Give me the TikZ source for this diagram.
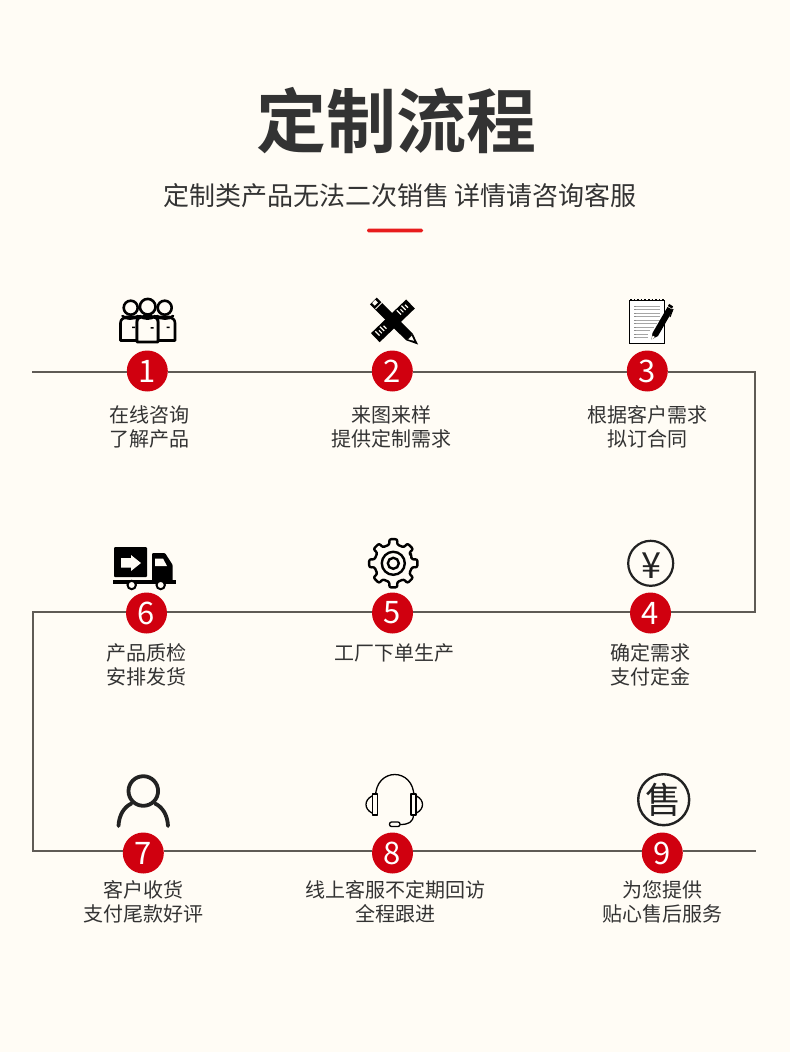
\documentclass[tikz,border=0pt]{standalone}
\usepackage{fontspec}
\usetikzlibrary{calc}
\setmainfont{Noto Sans CJK SC}
\newfontfamily\boldcjk{Noto Sans CJK SC Bold}
\definecolor{bgc}{HTML}{FFFCF5}
\definecolor{redc}{HTML}{D0000F}
\definecolor{barc}{HTML}{E81C1C}
\definecolor{linec}{HTML}{5F5B55}
\definecolor{textc}{HTML}{333333}
\definecolor{iconc}{HTML}{222222}
\tikzset{
 x=1pt,y=-1pt,
 stepnum/.style={circle,fill=redc,text=white,minimum size=41pt,inner sep=0pt,font=\fontsize{31}{31}\selectfont},
 steplabel/.style={text=textc,align=center,font=\fontsize{20}{24}\selectfont,inner sep=0pt},
 flow/.style={draw=linec,line width=2.2pt,line join=miter},
 ink/.style={draw=black,line width=2.6pt,line join=round,line cap=round},
}
\begin{document}
\begin{tikzpicture}
\fill[bgc] (0,0) rectangle (790,1052);
\useasboundingbox (0,0) rectangle (790,1052);
% headings
\node[text=textc,inner sep=0pt,font=\boldcjk\fontsize{70}{70}\selectfont] (title) at (396.5,121) {定制流程};
\node[text=textc,inner sep=0pt,font=\fontsize{26}{26}\selectfont] (subtitle) at (400,196) {定制类产品无法二次销售 详情请咨询客服};
\node[fill=barc,rounded corners=1.5pt,minimum width=56pt,minimum height=3.6pt,inner sep=0pt] (bar) at (395,230.5) {};
% step nodes
\node[stepnum] (n1) at (147.3,371) {1};
\node[stepnum] (n2) at (392.3,371) {2};
\node[stepnum] (n3) at (647.3,371) {3};
\node[stepnum] (n4) at (650.5,613) {4};
\node[stepnum] (n5) at (392.5,613) {5};
\node[stepnum] (n6) at (146.5,613) {6};
\node[stepnum] (n7) at (143.3,853) {7};
\node[stepnum] (n8) at (392.5,853) {8};
\node[stepnum] (n9) at (662.3,853) {9};
% labels
\node[steplabel] (l1) at (149.5,427) {在线咨询\\了解产品};
\node[steplabel] (l2) at (391.5,427) {来图来样\\提供定制需求};
\node[steplabel] (l3) at (647.5,427) {根据客户需求\\拟订合同};
\node[steplabel] (l4) at (650.5,665) {确定需求\\支付定金};
\node[steplabel] (l5) at (394.5,653) {工厂下单生产};
\node[steplabel] (l6) at (146.5,665) {产品质检\\安排发货};
\node[steplabel] (l7) at (143.5,902) {客户收货\\支付尾款好评};
\node[steplabel] (l8) at (395.5,902) {线上客服不定期回访\\全程跟进};
\node[steplabel] (l9) at (662.5,902) {为您提供\\贴心售后服务};
% connectors
\coordinate (start) at (32,372);
\coordinate (cr1) at (755.3,372);
\coordinate (cr2) at (755.3,612);
\coordinate (cl1) at (33,612);
\coordinate (cl2) at (33,851);
\coordinate (stop) at (756,851);
\draw[flow] (start) -- (n1.west |- start);
\draw[flow] (n1.east |- start) -- (n2.west |- start);
\draw[flow] (n2.east |- start) -- (n3.west |- start);
\draw[flow] (n3.east |- start) -- (cr1) -- (cr2) -- (n4.east |- cr2);
\draw[flow] (n4.west |- cr2) -- (n5.east |- cr2);
\draw[flow] (n5.west |- cr2) -- (n6.east |- cr2);
\draw[flow] (n6.west |- cr2) -- (cl1) -- (cl2) -- (n7.west |- cl2);
\draw[flow] (n7.east |- cl2) -- (n8.west |- cl2);
\draw[flow] (n8.east |- cl2) -- (n9.west |- cl2);
\draw[flow] (n9.east |- cl2) -- (stop);
% icon 1: people
\begin{scope}[ink]
\draw (120.5,340.5) -- (120.5,323) .. controls (120.5,319.5) and (123,318) .. (126,317) -- (137,317) -- (137,340.5) -- cycle;
\draw (130.7,307.7) circle (7);
\draw (122.5,316) .. controls (125,319.5) and (135,319.5) .. (138,316);
\draw (175,340.5) -- (175,323) .. controls (175,319.5) and (172.5,318) .. (169.5,317) -- (158,317) -- (158,340.5) -- cycle;
\draw (164.7,307.7) circle (7);
\draw (157,316) .. controls (160,319.5) and (170,319.5) .. (173,316);
\draw[fill=bgc] (137,342) -- (137,322) .. controls (137,318.5) and (140,317) .. (143,316.5) -- (152,316.5) .. controls (155,317) and (158,318.5) .. (158,322) -- (158,342) -- cycle;
\draw[fill=bgc] (147.7,306.7) circle (7.8);
\draw (140,316) .. controls (143,319.5) and (152,319.5) .. (155,316);
\fill (150.5,327) rectangle (153.5,328.6) (166.5,326.5) rectangle (169.5,328.1) (132,326.5) rectangle (135,328.1);
\end{scope}
% icon 2: ruler and pencil
\draw[black,line width=12.5pt,rounded corners=1pt] (375.3,337.7) -- (410.5,304);
\foreach \d/\l in {0/6,1/4,2/6,3/4}{
 \draw[bgc,line width=1.2pt] ($(379.5,335.5)+(\d*2.3,-\d*2.3)$) -- ++(-\l*0.7,-\l*0.7);
 \draw[bgc,line width=1.2pt] ($(401,314.5)+(\d*2.3,-\d*2.3)$) -- ++(-\l*0.7,-\l*0.7);
}
\draw[black,line width=9.5pt] (373.3,301) -- (409.5,337);
\draw[bgc,line width=4.5pt] (373.7,301.5) -- (376.3,304);
\draw[bgc,line width=1pt] (375.5,309) -- (382.5,302);
\fill[black] (406.2,340.3) -- (412.8,333.7) -- (418,344.5) -- cycle;
\fill[bgc] (408.3,339.4) -- (411.8,335.9) -- (414,340.8) -- cycle;
% icon 3: notepad and pen
\draw[black,line width=0.9pt,fill=white] (629.5,300) rectangle (664.5,343);
\draw[black,line width=1.6pt,dotted] (630,299.5) -- (664,299.5);
\foreach \y/\e in {306/660,309.5/660,313/660,316.5/660,320/660,323.5/657,327/654,330.5/650,334/648,337/648}{
 \draw[black!35,line width=0.5pt] (636,\y) -- (\e,\y);
 \draw[black!45,line width=0.5pt] (634,\y) -- (636,\y);
}
\fill[black] (651.5,339.5) -- (652.5,333) -- (667.5,307) -- (673,310) -- (658,336) -- cycle;
\fill[bgc] (651.5,339.8) -- (652.6,335.5) -- (655,337) -- cycle;
\draw[black,line width=2.5pt] (668.5,305) -- (672.5,307.5);
\draw[black,line width=1.1pt] (673,309) -- (670,317);
% icon 6: truck
\fill[black,rounded corners=1pt] (114,547) rectangle (147,577);
\fill[bgc] (121,558) -- (131,558) -- (131,555) -- (141,563) -- (131,571) -- (131,567.5) -- (121,567.5) -- cycle;
\fill[black,rounded corners=1pt] (152,582) -- (152,553) -- (165,553) -- (172.7,565) -- (172.7,582) -- cycle;
\fill[bgc] (155,558.5) -- (163,558.5) -- (167,566) -- (155,566) -- cycle;
\fill[black] (113,580) rectangle (176,583.5);
\draw[black,line width=2pt,fill=bgc] (131.7,585) circle (4.2);
\draw[black,line width=2pt,fill=bgc] (160.7,585) circle (4.2);
% icon 5: gear
\begin{scope}[shift={(393.3,563.3)}]
\draw[black,line width=2.4pt,line join=round,rounded corners=2.2pt]
 (-22.5:19) \foreach \a in {0,45,...,315}{
 -- (\a-11:19) -- (\a-10:24.5) -- (\a+10:24.5) -- (\a+11:19) -- (\a+22.5:19) } -- cycle;
\draw[black,line width=2.4pt] (0,0) circle (11.5);
\draw[black,line width=2.4pt] (0,0) circle (5.5);
\end{scope}
% icon 4: yen
\draw[iconc,line width=2.2pt] (650.7,563.3) circle (22.5);
\node[text=iconc,inner sep=0pt,font=\fontsize{36}{36}\selectfont] (yen) at (651,566) {¥};
% icon 7: user
\draw[iconc,line width=3.8pt] (143.3,791) circle (14.8);
\draw[iconc,line width=3.8pt,line cap=round] (118.5,826) .. controls (119,815) and (124,807) .. (131.5,803.5);
\draw[iconc,line width=3.8pt,line cap=round] (168,826) .. controls (167.5,815) and (162.5,807) .. (155,803.5);
% icon 8: headset
\begin{scope}[black,line cap=round,line join=round]
\draw[line width=1.3pt] (375.5,797) .. controls (375.5,767) and (414,767) .. (414,797);
\draw[line width=1.3pt,fill=bgc] (372.5,794) rectangle (377.5,815);
\draw[line width=1.3pt,fill=bgc] (411,794) rectangle (416,815);
\draw[line width=1.3pt] (372,796) .. controls (364,800) and (364,809) .. (372,813);
\draw[line width=1.3pt] (416.5,796) .. controls (424.5,800) and (424.5,809) .. (416.5,813);
\draw[line width=1.3pt] (413.5,815) .. controls (413,822) and (409,824.5) .. (400,824.5);
\draw[line width=1.3pt,fill=bgc,rounded corners=2pt] (389.5,822) rectangle (400,826.5);
\end{scope}
% icon 9: sale
\draw[iconc,line width=2.4pt] (663.7,799.7) circle (25.5);
\node[text=iconc,inner sep=0pt,font=\fontsize{36}{36}\selectfont] (shou) at (663.7,800) {售};
\end{tikzpicture}
\end{document}
